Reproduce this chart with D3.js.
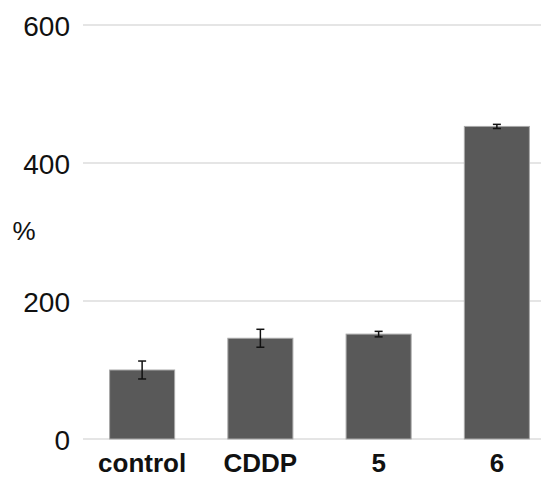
<!DOCTYPE html>
<html>
<head>
<meta charset="utf-8">
<script src="https://cdn.jsdelivr.net/npm/d3@7"></script>
<style>
  html, body { margin: 0; padding: 0; background: #fff; }
  svg { display: block; }
</style>
</head>
<body>
<svg id="chart" width="541" height="482"></svg>
<script>
const categories = ["control", "CDDP", "5", "6"];
const values = [100, 146, 152, 453];
const errors = [13, 13, 4, 3];
const yTicks = [0, 200, 400, 600];
const yLabel = "%";

const svg = d3.select("#chart");
const y = d3.scaleLinear().domain([0, 600]).range([439, 25]);
const x = d3.scaleBand().domain(categories).range([83, 556]).paddingInner(0.45).paddingOuter(0.225);

const font = "'Liberation Sans', Arial, Helvetica, sans-serif";

// gridlines
svg.append("g").selectAll("line").data(yTicks).join("line")
  .attr("x1", 83).attr("x2", 541)
  .attr("y1", d => y(d)).attr("y2", d => y(d))
  .attr("stroke", "#dcdcdc").attr("stroke-width", 1.5);

// y tick labels
svg.append("g").selectAll("text").data(yTicks).join("text")
  .attr("x", 70).attr("y", d => y(d) + 11)
  .attr("text-anchor", "end")
  .attr("font-family", font).attr("font-size", 28)
  .attr("fill", "#111")
  .text(d => d);

// y label
svg.append("text")
  .attr("x", 24).attr("y", 240)
  .attr("text-anchor", "middle")
  .attr("font-family", font).attr("font-size", 26)
  .attr("fill", "#111")
  .text(yLabel);

// bars
svg.append("g").selectAll("rect").data(categories).join("rect")
  .attr("x", d => x(d)).attr("width", x.bandwidth())
  .attr("y", (d, i) => y(values[i]))
  .attr("height", (d, i) => y(0) - y(values[i]))
  .attr("fill", "#595959").attr("stroke", "#a8a8a8").attr("stroke-width", 1);

// error bars
const eb = svg.append("g").attr("stroke", "#111").attr("stroke-width", 1.5);
categories.forEach((c, i) => {
  const cx = x(c) + x.bandwidth() / 2;
  const y1 = y(values[i] + errors[i]), y2 = y(values[i] - errors[i]);
  eb.append("line").attr("x1", cx).attr("x2", cx).attr("y1", y1).attr("y2", y2);
  eb.append("line").attr("x1", cx - 4).attr("x2", cx + 4).attr("y1", y1).attr("y2", y1);
  eb.append("line").attr("x1", cx - 4).attr("x2", cx + 4).attr("y1", y2).attr("y2", y2);
});

// x labels
svg.append("g").selectAll("text").data(categories).join("text")
  .attr("x", d => x(d) + x.bandwidth() / 2).attr("y", 472)
  .attr("text-anchor", "middle")
  .attr("font-family", font).attr("font-size", 26).attr("font-weight", "bold")
  .attr("fill", "#111")
  .text(d => d);
</script>
</body>
</html>
